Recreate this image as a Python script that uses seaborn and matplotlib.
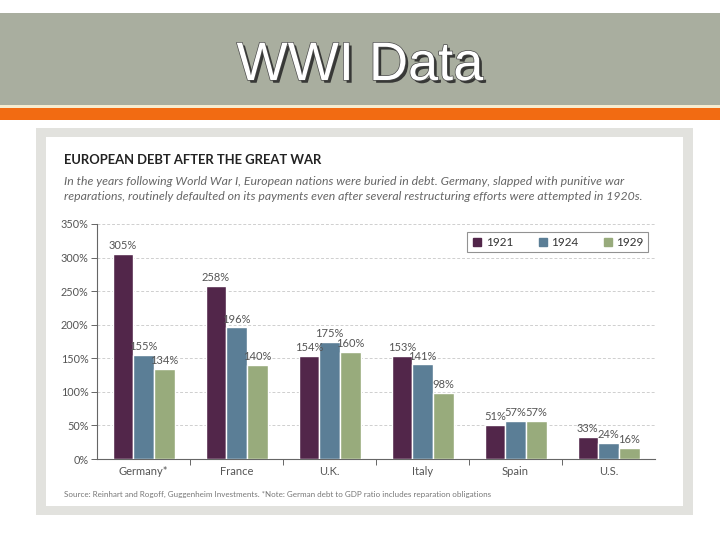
import numpy as np
import pandas as pd
import matplotlib
matplotlib.use("Agg")
import matplotlib.pyplot as plt
import matplotlib.patheffects as pe
from matplotlib.patches import Rectangle
from matplotlib.lines import Line2D
import seaborn as sns

# --- dados ---
countries = ["Germany*", "France", "U.K.", "Italy", "Spain", "U.S."]
years = ["1921", "1924", "1929"]
debt_1921 = [305, 258, 154, 153, 51, 33]
debt_1924 = [155, 196, 175, 141, 57, 24]
debt_1929 = [134, 140, 160, 98, 57, 16]
yticks = [0, 50, 100, 150, 200, 250, 300, 350]

colors = ["#52264a", "#5b7e96", "#98ab7c"]

W, H = 720, 540


def fx(px):
    return px / W


def fy(py):
    return 1 - py / H


def add_rect(fig, x0, y0, x1, y1, color):
    # retangulo em pixels (origem no topo), desenhado atras dos eixos
    fig.patches.append(Rectangle((fx(x0), fy(y1)), fx(x1) - fx(x0), fy(y0) - fy(y1),
                                 transform=fig.transFigure, facecolor=color,
                                 edgecolor="none", zorder=-1))


sns.set_style("white")
plt.rcParams["font.family"] = ["Lato", "DejaVu Sans"]

df = pd.DataFrame({
    "country": countries * 3,
    "year": [y for y in years for _ in countries],
    "debt": debt_1921 + debt_1924 + debt_1929,
})

fig = plt.figure(figsize=(7.2, 5.4), dpi=100)
fig.patch.set_facecolor("white")

# faixa do titulo do slide
add_rect(fig, 0, 13, 720, 105, "#a9ae9f")
add_rect(fig, 0, 105, 720, 108, "#f6ecd0")
add_rect(fig, 0, 108, 720, 120, "#f26b12")
# painel do grafico
add_rect(fig, 36, 128, 693, 515, "#e2e2de")
add_rect(fig, 46, 137, 683, 506, "white")

fig.text(0.5, fy(80), "WWI Data", ha="center", va="baseline", fontsize=39,
         family="Liberation Sans", color="white",
         path_effects=[pe.SimplePatchShadow(offset=(2, -2), shadow_rgbFace="#2b2b2b", alpha=0.9),
                       pe.withStroke(linewidth=1, foreground="#4a4a4a")])

fig.text(fx(64), fy(164), "EUROPEAN DEBT AFTER THE GREAT WAR", fontsize=9.4, fontweight="bold",
         color="#222222", ha="left", va="baseline")
fig.text(fx(64), fy(185), "In the years following World War I, European nations were buried in debt. "
         "Germany, slapped with punitive war", fontsize=8.85, style="italic", color="#666666",
         ha="left", va="baseline")
fig.text(fx(64), fy(200), "reparations, routinely defaulted on its payments even after several "
         "restructuring efforts were attempted in 1920s.", fontsize=8.85, style="italic",
         color="#666666", ha="left", va="baseline")
fig.text(fx(64), fy(497), "Source: Reinhart and Rogoff, Guggenheim Investments. *Note: German debt "
         "to GDP ratio includes reparation obligations", fontsize=5.8, color="#777777",
         ha="left", va="baseline")

ax = fig.add_axes([fx(97), fy(459), fx(655) - fx(97), fy(224) - fy(459)])
sns.barplot(data=df, x="country", y="debt", hue="year", palette=colors, saturation=1,
            width=2 / 3, gap=0, ax=ax, legend=False, zorder=3)

for cont, vals in zip(ax.containers, [debt_1921, debt_1924, debt_1929]):
    ax.bar_label(cont, labels=[f"{v}%" for v in vals], padding=2, fontsize=8, color="#555555")

ax.set_xlim(-0.5, 5.5)
ax.set_ylim(0, 350)
ax.set_yticks(yticks)
ax.set_yticklabels([f"{v}%" for v in yticks])
ax.set_xlabel("")
ax.set_ylabel("")
ax.set_facecolor("none")

for v in yticks[1:]:
    ax.axhline(v, color="#cfcfcf", linestyle=(0, (3, 2)), linewidth=0.7, zorder=1)

for s in ["top", "right"]:
    ax.spines[s].set_visible(False)
for s in ["left", "bottom"]:
    ax.spines[s].set_color("#666666")
    ax.spines[s].set_linewidth(0.8)

ax.tick_params(axis="y", length=4, width=0.7, color="#666666", labelsize=7.8,
               labelcolor="#555555", pad=2, left=True)
ax.tick_params(axis="x", which="major", length=0, labelsize=8, labelcolor="#555555", pad=5)
ax.set_xticks(np.arange(0.5, 5, 1), minor=True)
ax.tick_params(axis="x", which="minor", length=4, width=0.7, color="#666666", bottom=True)

handles = [Line2D([], [], marker="s", linestyle="none", markersize=6, color=c) for c in colors]
leg = ax.legend(handles, years, loc="upper right", bbox_to_anchor=(0.9875, 0.966), ncol=3,
                frameon=True, fancybox=False, fontsize=8.5, handletextpad=0.2,
                columnspacing=2.0, borderpad=0.4, handlelength=1.0, borderaxespad=0,
                labelcolor="#333333")
leg.get_frame().set_edgecolor("#777777")
leg.get_frame().set_linewidth(0.8)

fig.savefig("out.png", dpi=100)
